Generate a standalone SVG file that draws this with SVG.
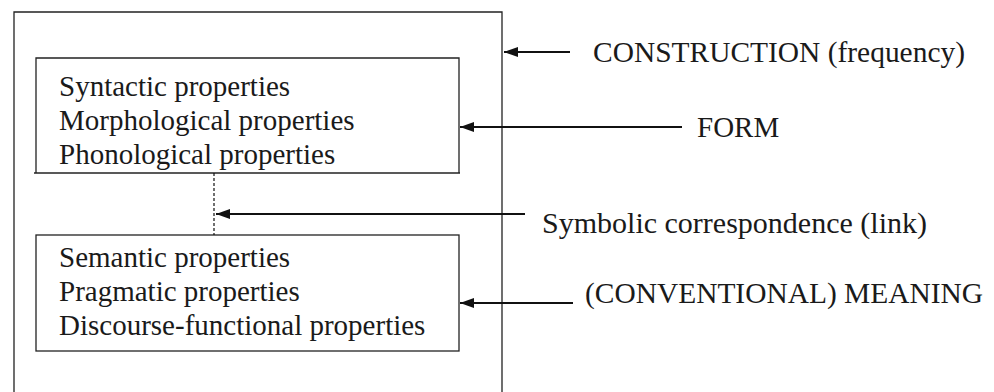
<svg xmlns="http://www.w3.org/2000/svg" width="994" height="392" viewBox="0 0 994 392">
<style>
.box{fill:none;stroke:#222;stroke-width:1.3}
.ln{stroke:#111;stroke-width:1.8;fill:none}
.dash{stroke:#111;stroke-width:1.2;stroke-dasharray:3,2;fill:none}
.t{font-family:"Liberation Serif","Times New Roman",serif;font-size:29px;fill:#1a1a1a}
.r{font-family:"Liberation Serif","Times New Roman",serif;font-size:29px;fill:#1a1a1a}
</style>
<defs>
<marker id="ah" viewBox="0 0 14 10" refX="14" refY="5" markerWidth="14" markerHeight="10" markerUnits="userSpaceOnUse" orient="auto">
<path d="M0,0 L14,5 L0,10 z" fill="#111"/>
</marker>
</defs>
<rect fill="#fff" width="994" height="392"/>
<g id="construction">
<path class="box" d="M14,400 V12 H502 V400"/>
</g>
<g id="form">
<path class="box" d="M36,173 V58 H459 V173"/>
<line class="box" x1="34" y1="173" x2="460" y2="173"/>
<text class="t" x="59" y="96">Syntactic properties</text>
<text class="t" x="59" y="130">Morphological properties</text>
<text class="t" x="59" y="164">Phonological properties</text>
</g>
<g id="meaning">
<rect class="box" x="36" y="235" width="423" height="116"/>
<text class="t" x="59" y="267">Semantic properties</text>
<text class="t" x="59" y="301">Pragmatic properties</text>
<text class="t" x="59" y="335">Discourse-functional properties</text>
</g>
<g id="labels">
<text class="r" x="593" y="62" textLength="372" lengthAdjust="spacingAndGlyphs">CONSTRUCTION (frequency)</text>
<text class="r" x="697" y="137">FORM</text>
<text class="r" x="542" y="233" textLength="385" lengthAdjust="spacingAndGlyphs">Symbolic correspondence (link)</text>
<text class="r" x="585" y="303" textLength="398" lengthAdjust="spacingAndGlyphs">(CONVENTIONAL) MEANING</text>
</g>
<g id="connectors">
<line class="dash" x1="214" y1="173" x2="214" y2="235"/>
<line class="ln" x1="570" y1="52" x2="504" y2="52" marker-end="url(#ah)"/>
<line class="ln" x1="682" y1="127" x2="460" y2="127" marker-end="url(#ah)"/>
<line class="ln" x1="525" y1="214" x2="216" y2="214" marker-end="url(#ah)"/>
<line class="ln" x1="573" y1="303" x2="460" y2="303" marker-end="url(#ah)"/>
</g>
</svg>
